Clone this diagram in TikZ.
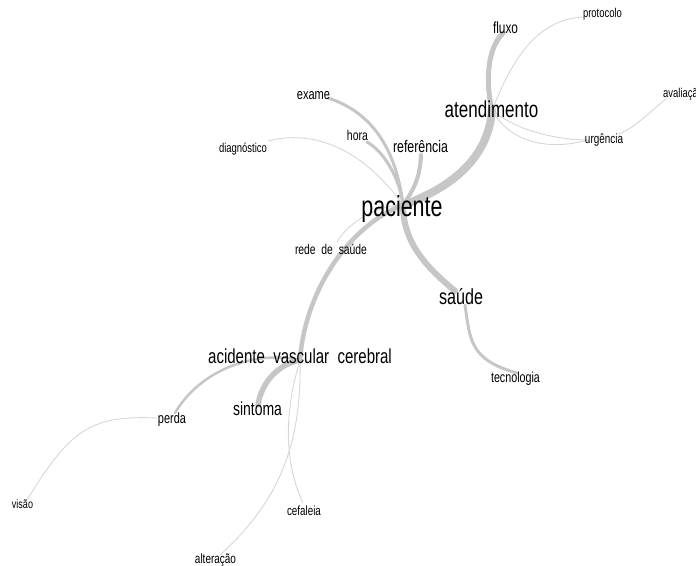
\documentclass[tikz,border=0pt]{standalone}
\usepackage{fontspec}
\setmainfont{Liberation Sans}[FakeStretch=0.74]
\definecolor{edgegray}{RGB}{198,198,198}
\definecolor{thingray}{RGB}{214,214,214}
\begin{document}
\begin{tikzpicture}[x=1pt,y=-1pt,line cap=round,
  lbl/.style={anchor=base,inner sep=0pt,font=\fontsize{#1}{#1}\selectfont,text=black},
  wedge/.style={draw=edgegray,line width=#1},
  thinedge/.style={draw=thingray,line width=0.9pt}]
\clip (0,0) rectangle (696,565);
% vertex points
\coordinate (vpac) at (403,205);
\coordinate (vate) at (492,110);
\coordinate (vflu) at (503,33);
\coordinate (vpro) at (583,17);
\coordinate (vurgL) at (588,140);
\coordinate (vurgR) at (618,134);
\coordinate (vava) at (667,98);
\coordinate (vref) at (421,155);
\coordinate (vhor) at (367,142);
\coordinate (vexa) at (328,98);
\coordinate (vdia) at (268,141);
\coordinate (vsau) at (455,291);
\coordinate (vsau2) at (465,305);
\coordinate (vtec) at (517,373);
\coordinate (vred) at (337,242);
\coordinate (vavc) at (300,360);
\coordinate (vsin) at (258,405);
\coordinate (vper) at (175,413);
\coordinate (vper2) at (157,418);
\coordinate (vvis) at (27,500);
\coordinate (vcef) at (303,503);
\coordinate (valt) at (220,555);
% edges
\draw[wedge=8pt] (vpac) .. controls (440,192) and (488,165) .. (vate);
\draw[wedge=5pt] (vate) .. controls (486,85) and (486,50) .. (vflu);
\draw[thinedge] (vate) .. controls (508,72) and (530,20) .. (vpro);
\draw[thinedge] (vate) .. controls (518,132) and (560,140) .. (vurgL);
\draw[thinedge] (vate) .. controls (508,140) and (545,152) .. (vurgL);
\draw[thinedge] (vurgR) .. controls (632,130) and (650,112) .. (vava);
\draw[wedge=4pt] (vref) .. controls (420,180) and (412,192) .. (vpac);
\draw[wedge=3pt] (vhor) .. controls (385,152) and (400,180) .. (vpac);
\draw[wedge=3pt] (vexa) .. controls (365,110) and (395,140) .. (vpac);
\draw[thinedge] (vdia) .. controls (310,130) and (360,145) .. (vpac);
\draw[wedge=6pt] (vpac) .. controls (403,245) and (430,270) .. (vsau);
\draw[wedge=3pt] (vsau2) .. controls (470,340) and (470,360) .. (vtec);
\draw[thinedge] (vpac) .. controls (380,205) and (350,220) .. (vred);
\draw[wedge=4.5pt] (vpac) .. controls (350,225) and (305,290) .. (vavc);
\draw[wedge=5.5pt] (vavc) .. controls (280,364) and (262,380) .. (vsin);
\draw[wedge=2.5pt] (vavc) .. controls (255,350) and (200,370) .. (vper);
\draw[thinedge] (vper2) .. controls (90,415) and (70,430) .. (vvis);
\draw[thinedge] (vavc) .. controls (285,410) and (283,460) .. (vcef);
\draw[thinedge] (vavc) .. controls (302,450) and (275,505) .. (valt);
% labels
\node[lbl=29] (paciente) at (402,216) {paciente};
\node[lbl=23] (atendimento) at (491.5,117) {atendimento};
\node[lbl=16] (fluxo) at (505.5,33) {fluxo};
\node[lbl=12.8] (protocolo) at (602.5,17) {protocolo};
\node[lbl=12.8,anchor=base west] (avaliacao) at (663,97) {avaliação};
\node[lbl=13.4] (urgencia) at (604,143) {urgência};
\node[lbl=16.7] (referencia) at (420.5,152) {referência};
\node[lbl=14.2] (hora) at (357.5,140) {hora};
\node[lbl=14.9] (exame) at (313.5,99) {exame};
\node[lbl=12.8] (diagnostico) at (243,152) {diagnóstico};
\node[lbl=21.8] (saude) at (461,304) {saúde};
\node[lbl=14.5] (tecnologia) at (515.5,382) {tecnologia};
\node[lbl=14] (rede) at (331,254) {rede\ \ de\ \ saúde};
\node[lbl=20.3] (avc) at (300,363) {acidente\ \ vascular\ \ cerebral};
\node[lbl=18.9] (sintoma) at (257.5,415) {sintoma};
\node[lbl=14.8] (perda) at (172,423) {perda};
\node[lbl=12.2] (visao) at (22.5,508) {visão};
\node[lbl=13.3] (cefaleia) at (304,515) {cefaleia};
\node[lbl=13.5] (alteracao) at (215.5,563) {alteração};
\end{tikzpicture}
\end{document}
